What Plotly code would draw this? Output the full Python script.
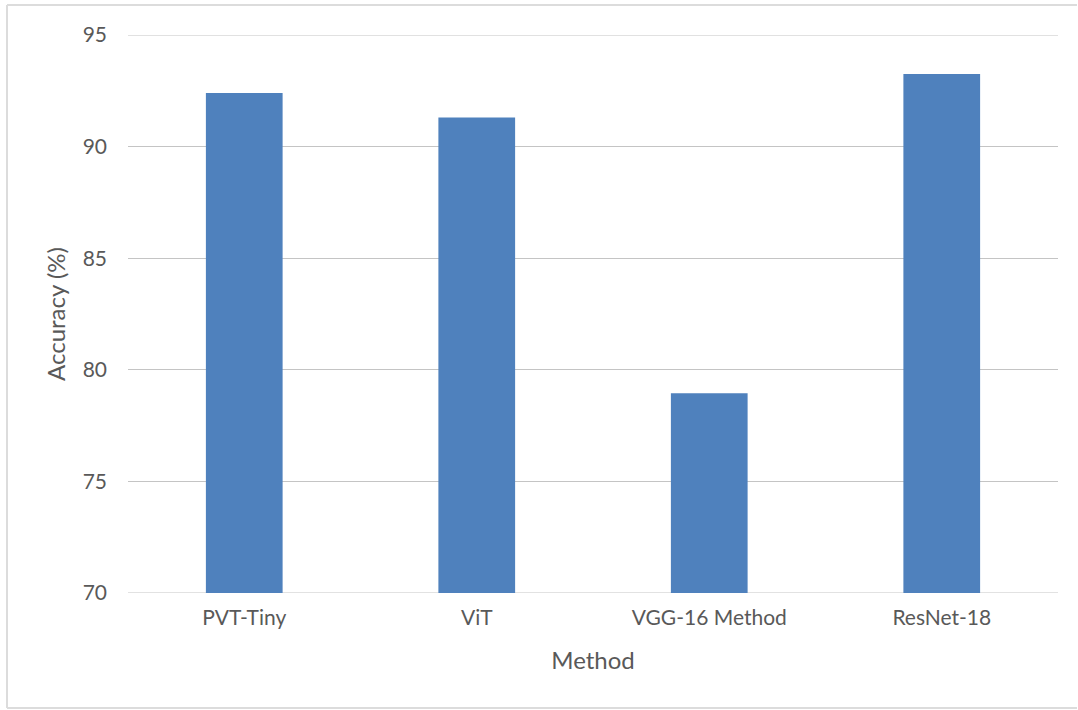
import plotly.graph_objects as go

# Classification accuracy per method
methods = ["PVT-Tiny", "ViT", "VGG-16 Method", "ResNet-18"]
accuracy = [92.4, 91.3, 78.95, 93.25]
y_ticks = [70, 75, 80, 85, 90, 95]

W, H = 1078, 710
L, R, T, B = 128, 20, 35, 117
pw, ph = W - L - R, H - T - B

def px_x(x):
    return (x - L) / pw

def px_y(y):
    return (H - B - y) / ph

fig = go.Figure(
    go.Bar(
        x=methods,
        y=accuracy,
        marker=dict(color="#4f81bd", line=dict(width=0)),
        width=0.33,
    )
)

font_family = "Lato, 'Open Sans', sans-serif"
grey_text = "#595959"
grid_color = "#c4c4c4"
fig.update_layout(
    width=W,
    height=H,
    margin=dict(l=L, r=R, t=T, b=B),
    paper_bgcolor="white",
    plot_bgcolor="white",
    font=dict(family=font_family, color=grey_text, size=21),
    showlegend=False,
    xaxis=dict(
        showgrid=False,
        showline=False,
        ticks="",
        ticklabelstandoff=10,
        tickfont=dict(size=21, color=grey_text),
        title=dict(text="Method", font=dict(size=24, color=grey_text), standoff=24),
    ),
    yaxis=dict(
        range=[y_ticks[0], y_ticks[-1]],
        tickvals=y_ticks,
        ticktext=[str(v) for v in y_ticks],
        showgrid=True,
        gridcolor=grid_color,
        gridwidth=1,
        zeroline=False,
        showline=False,
        ticks="",
        ticklabelstandoff=20,
        tickfont=dict(size=21, color=grey_text),
        title=dict(text="Accuracy (%)", font=dict(size=24, color=grey_text), standoff=10),
    ),
)

# gridlines on the range edges (plotly skips those), drawn below the bars
for v in (y_ticks[0], y_ticks[-1]):
    fig.add_shape(type="line", xref="paper", yref="y", x0=0, x1=1, y0=v, y1=v,
                  line=dict(color=grid_color, width=1), layer="below")

# light frame around the chart area
frame = dict(type="line", xref="paper", yref="paper", line=dict(color="#dcdcdc", width=2))
fig.add_shape(**frame, x0=px_x(7), x1=px_x(7), y0=px_y(5), y1=px_y(708))
fig.add_shape(**frame, x0=px_x(7), x1=px_x(1077), y0=px_y(5), y1=px_y(5))
fig.add_shape(**frame, x0=px_x(7), x1=px_x(1077), y0=px_y(708), y1=px_y(708))

fig.write_html("out.html")
